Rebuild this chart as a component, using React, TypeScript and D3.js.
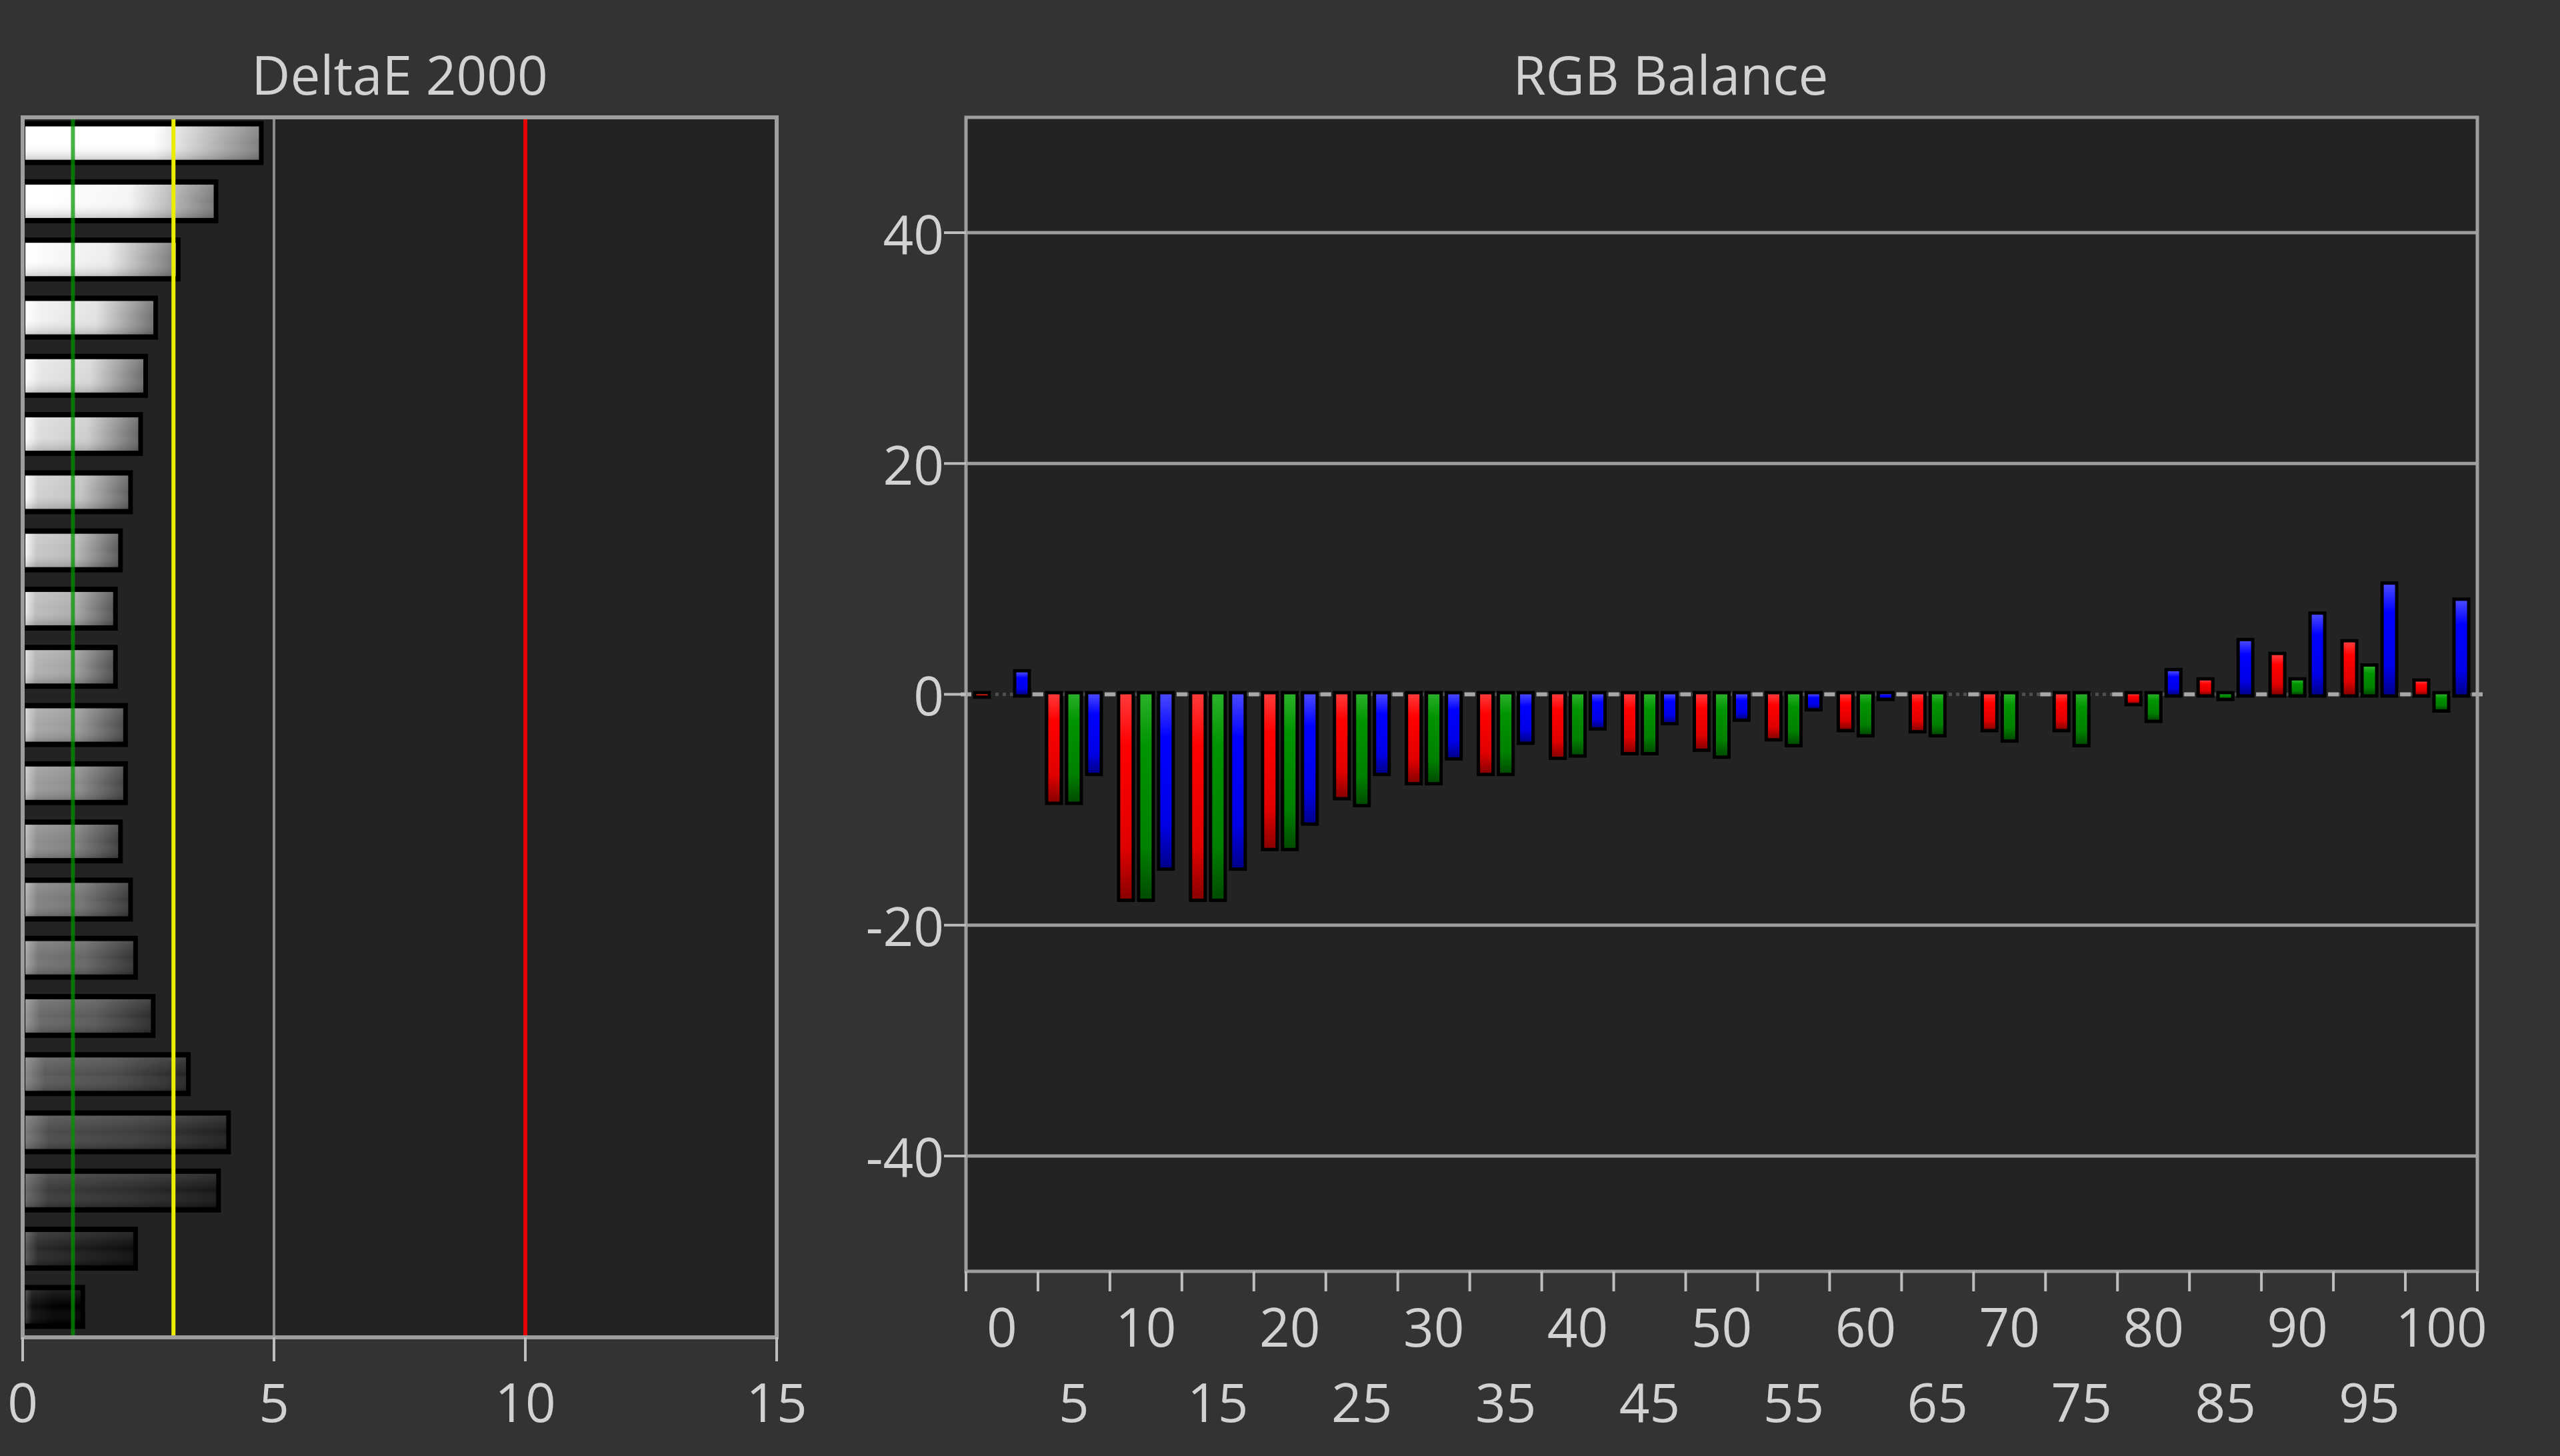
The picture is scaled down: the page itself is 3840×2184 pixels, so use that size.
import React from 'react';
import * as d3 from 'd3';

// ---- DeltaE 2000 panel data (top bar = 100% stimulus, bottom = 0%) ----
const deltaELevels = [100, 95, 90, 85, 80, 75, 70, 65, 60, 55, 50, 45, 40, 35, 30, 25, 20, 15, 10, 5, 0];
const deltaEValues = [4.7, 3.8, 3.05, 2.6, 2.4, 2.3, 2.1, 1.9, 1.8, 1.8, 2.0, 2.0, 1.9, 2.1, 2.2, 2.55, 3.25, 4.05, 3.85, 2.2, 1.15];
const deltaETicks = [0, 5, 10, 15];
const deltaEGridValues = [5];
const deltaEThresholds = [1, 3, 10];

// ---- RGB Balance panel data ----
const rgbLevels = [0, 5, 10, 15, 20, 25, 30, 35, 40, 45, 50, 55, 60, 65, 70, 75, 80, 85, 90, 95, 100];
const redValues = [-0.1, -9.3, -17.7, -17.7, -13.3, -8.9, -7.6, -6.8, -5.4, -5.0, -4.7, -3.8, -3.0, -3.1, -3.0, -3.0, -0.75, 1.2, 3.4, 4.5, 1.1];
const greenValues = [0, -9.3, -17.7, -17.7, -13.3, -9.5, -7.6, -6.8, -5.2, -5.0, -5.3, -4.3, -3.45, -3.45, -3.9, -4.3, -2.2, -0.3, 1.2, 2.4, -1.3];
const blueValues = [1.9, -6.8, -15.0, -15.0, -11.1, -6.8, -5.45, -4.1, -2.85, -2.4, -2.1, -1.2, -0.3, 0, 0, 0, 2.0, 4.6, 6.9, 9.5, 8.1];
const rgbYTicks = [40, 20, 0, -20, -40];
const rgbGridValues = [40, 20, -20, -40];

const W = 3840;
const H = 2184;
const FONT = "'Open Sans', 'Noto Sans', sans-serif";
const FS = 80;
const TEXT = '#d2d2d2';
const FRAME = '#9e9e9e';
const OUTER_BG = '#333333';
const PLOT_BG = '#232323';

const grayHex = (v: number) => {
  const c = Math.max(0, Math.min(255, Math.round(v)));
  return d3.rgb(c, c, c).formatHex();
};

export default function App() {
  // left panel scales
  const xL = d3.scaleLinear().domain([0, 15]).range([34, 1165]);
  const yL = d3.scaleBand<string>().domain(deltaELevels.map(String)).range([171, 2004]);
  const lTop = 176;
  const lBottom = 2006;
  const barFillH = 50;
  const barOutH = 66;

  // right panel scales
  const xR = d3.scaleBand<string>().domain(rgbLevels.map(String)).range([1449, 3716]);
  const yR = d3.scaleLinear().domain([-50, 50]).range([1907, 176]);
  const inner = d3.scalePoint<string>().domain(['R', 'G', 'B']).range([-30, 30]);
  const rTop = yR(50);
  const rBottom = yR(-50);
  const rLeft = xR.range()[0];
  const rRight = xR.range()[1];
  const y0 = yR(0);
  const fillW = 17;
  const pad = 5;

  const series = [
    { key: 'R', values: redValues, grad: 'gradR' },
    { key: 'G', values: greenValues, grad: 'gradG' },
    { key: 'B', values: blueValues, grad: 'gradB' },
  ];

  const boundaries = d3.range(rgbLevels.length + 1).map((i) => rLeft + i * xR.step());

  const thresholdColors = ['rgba(0,150,0,0.72)', '#ecec00', '#e60000'];

  return (
    <svg
      width={W}
      height={H}
      viewBox={`0 0 ${W} ${H}`}
      style={{ position: 'absolute', left: 0, top: 0, display: 'block' }}
      fontFamily={FONT}
    >
      <defs>
        {deltaELevels.map((lvl, i) => {
          const g = 255 * Math.pow(lvl / 100, 0.75);
          return (
            <linearGradient key={i} id={`deg${i}`} x1="0" y1="0" x2="1" y2="0">
              <stop offset="0" stopColor={grayHex(g + 60)} />
              <stop offset="0.12" stopColor={grayHex(g + 15)} />
              <stop offset="0.55" stopColor={grayHex(g)} />
              <stop offset="1" stopColor={grayHex(g * 0.5)} />
            </linearGradient>
          );
        })}
        <linearGradient id="deShade" x1="0" y1="0" x2="0" y2="1">
          <stop offset="0" stopColor="#ffffff" stopOpacity="0.12" />
          <stop offset="0.5" stopColor="#ffffff" stopOpacity="0" />
          <stop offset="1" stopColor="#000000" stopOpacity="0.18" />
        </linearGradient>
        <linearGradient id="gradR" x1="0" y1="0" x2="0" y2="1">
          <stop offset="0" stopColor="#ff3a3a" />
          <stop offset="0.25" stopColor="#ff0000" />
          <stop offset="0.75" stopColor="#e00000" />
          <stop offset="1" stopColor="#8a0000" />
        </linearGradient>
        <linearGradient id="gradG" x1="0" y1="0" x2="0" y2="1">
          <stop offset="0" stopColor="#2ab02a" />
          <stop offset="0.25" stopColor="#009400" />
          <stop offset="0.75" stopColor="#008000" />
          <stop offset="1" stopColor="#004c00" />
        </linearGradient>
        <linearGradient id="gradB" x1="0" y1="0" x2="0" y2="1">
          <stop offset="0" stopColor="#4848ff" />
          <stop offset="0.25" stopColor="#0000ff" />
          <stop offset="0.75" stopColor="#0000e6" />
          <stop offset="1" stopColor="#00008c" />
        </linearGradient>
      </defs>

      <rect x={0} y={0} width={W} height={H} fill={OUTER_BG} />

      {/* ================= DeltaE 2000 ================= */}
      <text x={(xL(0) + xL(15)) / 2} y={142} textAnchor="middle" fontSize={FS} fill={TEXT}>
        DeltaE 2000
      </text>
      <rect x={xL(0)} y={lTop} width={xL(15) - xL(0)} height={lBottom - lTop} fill={PLOT_BG} />
      {deltaEGridValues.map((v) => (
        <line key={v} x1={xL(v)} x2={xL(v)} y1={lTop} y2={lBottom} stroke="#8c8c8c" strokeWidth={4} />
      ))}
      {deltaEValues.map((v, i) => {
        const cy = (yL(String(deltaELevels[i])) as number) + yL.bandwidth() / 2;
        return (
          <g key={i}>
            <rect x={xL(0)} y={cy - barOutH / 2} width={xL(v) - xL(0) + 7} height={barOutH} fill="#000" />
            <rect x={xL(0) + 4} y={cy - barFillH / 2} width={xL(v) - xL(0) - 4} height={barFillH} fill={`url(#deg${i})`} />
            <rect x={xL(0) + 4} y={cy - barFillH / 2} width={xL(v) - xL(0) - 4} height={barFillH} fill="url(#deShade)" />
          </g>
        );
      })}
      {deltaEThresholds.map((v, i) => (
        <line key={v} x1={xL(v)} x2={xL(v)} y1={lTop} y2={lBottom} stroke={thresholdColors[i]} strokeWidth={6} />
      ))}
      <rect x={xL(0)} y={lTop} width={xL(15) - xL(0)} height={lBottom - lTop} fill="none" stroke={FRAME} strokeWidth={6} />
      {deltaETicks.map((t) => (
        <g key={t}>
          <line x1={xL(t)} x2={xL(t)} y1={lBottom} y2={lBottom + 36} stroke="#bdbdbd" strokeWidth={4} />
          <text x={xL(t)} y={2101} textAnchor="middle" dominantBaseline="central" fontSize={FS} fill={TEXT}>
            {t}
          </text>
        </g>
      ))}

      {/* ================= RGB Balance ================= */}
      <text x={2506} y={142} textAnchor="middle" fontSize={FS} fill={TEXT}>
        RGB Balance
      </text>
      <rect x={rLeft} y={rTop} width={rRight - rLeft} height={rBottom - rTop} fill={PLOT_BG} />
      {rgbGridValues.map((v) => (
        <line key={v} x1={rLeft} x2={rRight} y1={yR(v)} y2={yR(v)} stroke={FRAME} strokeWidth={5} />
      ))}
      {/* zero line */}
      <line x1={rLeft} x2={rRight} y1={y0} y2={y0} stroke="#4e4e4e" strokeWidth={5} strokeDasharray="5 6" />
      {boundaries.map((b, i) => (
        <line key={i} x1={b - 8} x2={b + 8} y1={y0} y2={y0} stroke="#a8a8a8" strokeWidth={6} />
      ))}
      {/* bars */}
      {series.map((s) => (
        <g key={s.key}>
          {s.values.map((v, i) => {
            if (v === 0) return null;
            const cx = (xR(String(rgbLevels[i])) as number) + xR.bandwidth() / 2 + (inner(s.key) as number);
            const top = Math.min(yR(v), y0);
            const bot = Math.max(yR(v), y0);
            return (
              <g key={i}>
                <rect x={cx - fillW / 2 - pad} y={top - pad} width={fillW + 2 * pad} height={bot - top + 2 * pad} fill="#000" />
                <rect x={cx - fillW / 2} y={top} width={fillW} height={bot - top} fill={`url(#${s.grad})`} />
              </g>
            );
          })}
        </g>
      ))}
      <rect x={rLeft} y={rTop} width={rRight - rLeft} height={rBottom - rTop} fill="none" stroke={FRAME} strokeWidth={5} />
      {rgbYTicks.map((t) => (
        <g key={t}>
          <line x1={rLeft - 33} x2={rLeft} y1={yR(t)} y2={yR(t)} stroke="#bdbdbd" strokeWidth={4} />
          <text x={rLeft - 33} y={yR(t)} textAnchor="end" dominantBaseline="central" fontSize={FS} fill={TEXT}>
            {t}
          </text>
        </g>
      ))}
      {boundaries.map((b, i) => (
        <line key={i} x1={b} x2={b} y1={rBottom} y2={rBottom + 30} stroke="#bdbdbd" strokeWidth={4} />
      ))}
      {rgbLevels.map((lvl, i) => (
        <text
          key={lvl}
          x={(xR(String(lvl)) as number) + xR.bandwidth() / 2}
          y={i % 2 === 0 ? 1988 : 2101}
          textAnchor="middle"
          dominantBaseline="central"
          fontSize={FS}
          fill={TEXT}
        >
          {lvl}
        </text>
      ))}
    </svg>
  );
}
